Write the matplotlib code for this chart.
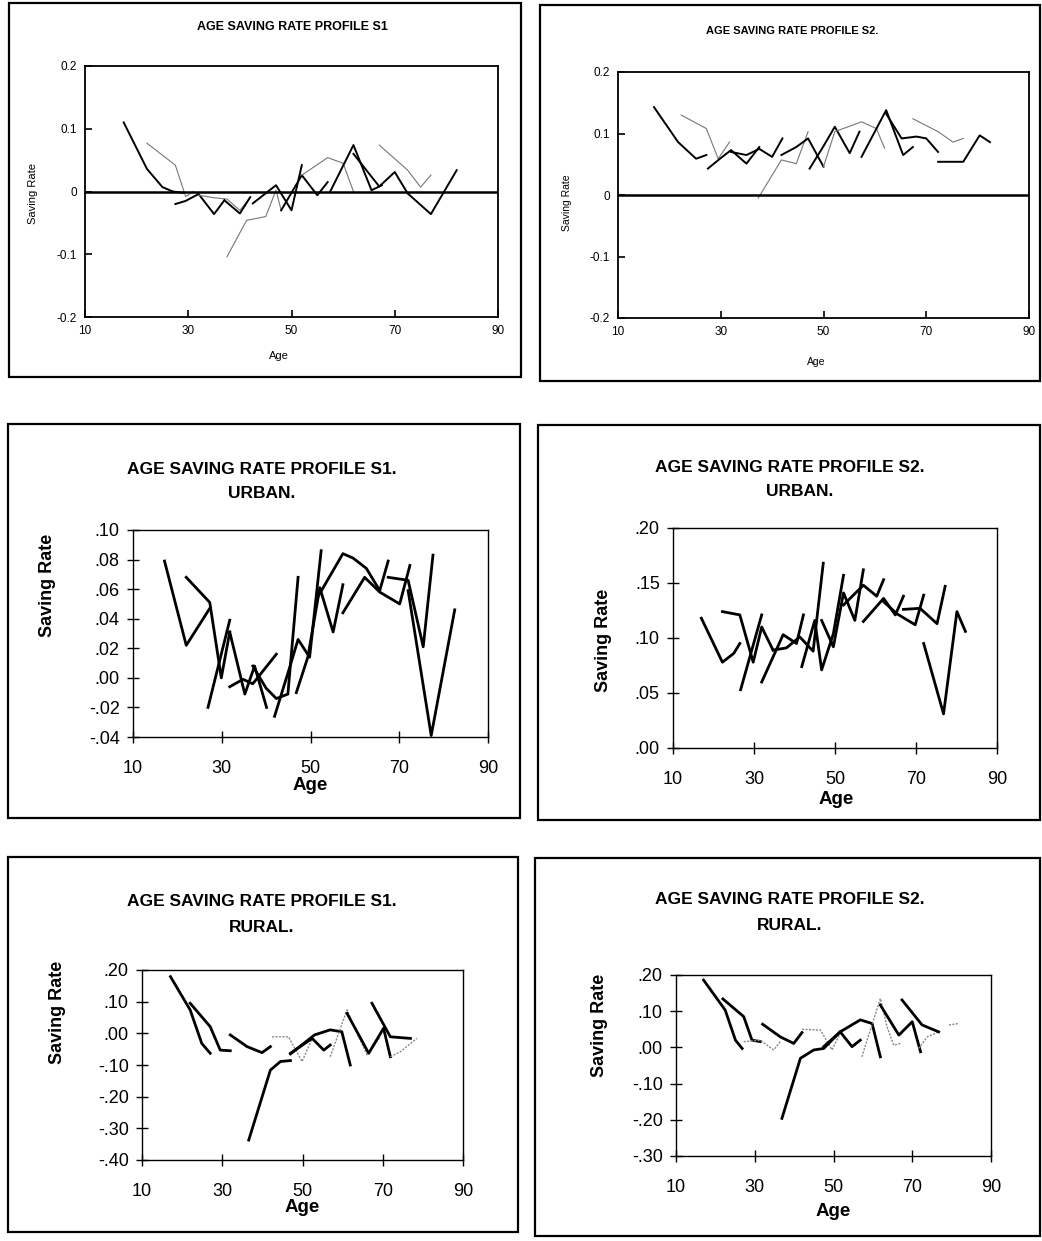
import matplotlib
matplotlib.use("Agg")
import matplotlib.pyplot as plt
from matplotlib.patches import Rectangle
from matplotlib.ticker import FixedLocator, FuncFormatter

plt.rcParams['font.family'] = ['Liberation Sans', 'DejaVu Sans']

# ---------------- DATA (cohort profiles: age, saving rate) ----------------
# Panel 1: S1 (all)
P1_AGES = [[17.5, 22, 25, 27, 29], [22, 27.5, 29.5, 31], [27.5, 29.5, 32, 35, 37],
           [32, 35, 37.5, 40, 42], [37, 40, 42], [37.5, 41.3, 45, 47, 48],
           [42.5, 47, 50, 52], [48, 52, 55, 57], [52, 57, 60, 62],
           [57.5, 62, 65.5, 67.5], [62, 67, 70, 72.5], [67, 72.5, 75, 77], [72.5, 77, 82]]
P1_VALS = [[0.11, 0.036, 0.007, 0.0, -0.002], [0.077, 0.042, -0.008, 0.0],
           [-0.02, -0.015, -0.004, -0.036, -0.014], [-0.006, -0.01, -0.012, -0.03, -0.01],
           [-0.014, -0.035, -0.009], [-0.104, -0.046, -0.04, 0.002, -0.03],
           [-0.019, 0.01, -0.03, 0.042], [-0.03, 0.026, -0.006, 0.015],
           [0.026, 0.054, 0.045, 0.0], [0.0, 0.074, 0.002, 0.01],
           [0.06, 0.008, 0.031, -0.003], [0.074, 0.034, 0.007, 0.026],
           [-0.003, -0.036, 0.034]]

# Panel 2: S2 (all)
P2_AGES = [[17, 21.7, 25.2, 27.2], [22.3, 27.2, 29.5, 31.7], [27.5, 30, 32, 35, 37.5],
           [32, 35, 37.5, 40, 42], [37.3, 41.8, 44.7, 47], [41.8, 44.7, 47, 50],
           [47.3, 49.9, 52.2, 55.1, 57], [50, 52.2, 57.4, 60.3, 61.9],
           [57.4, 62.2, 65.5, 67.4], [62.2, 65.2, 68.1, 70, 72.3],
           [67.4, 72.3, 75.2, 77.2], [72.3, 77.2, 80.4, 82.4]]
P2_VALS = [[0.143, 0.086, 0.059, 0.065], [0.13, 0.108, 0.059, 0.086],
           [0.043, 0.06, 0.073, 0.051, 0.078], [0.07, 0.065, 0.075, 0.062, 0.092],
           [-0.005, 0.057, 0.051, 0.103], [0.065, 0.078, 0.092, 0.046],
           [0.043, 0.078, 0.111, 0.068, 0.103], [0.046, 0.103, 0.119, 0.108, 0.076],
           [0.062, 0.138, 0.065, 0.078], [0.132, 0.092, 0.095, 0.092, 0.07],
           [0.124, 0.103, 0.086, 0.092], [0.054, 0.054, 0.097, 0.086]]

# Panel 3: S1 urban
P3_AGES = [[17.1, 22, 27.3], [22, 27.3, 29.9, 31.8], [26.9, 31.8],
           [31.8, 35.2, 37.4, 40.1], [31.8, 34.8, 37, 42.3],
           [37, 40, 42.3, 44.9, 47.2], [41.9, 45.3, 47.2, 49.8, 52.4],
           [46.8, 49.4, 52.1, 55.1, 57.3], [51.7, 57.3, 59.6, 62.6, 65.6, 67.5],
           [57.3, 62.2, 65.6, 70.1, 72.4], [67.5, 72, 75.4, 77.6], [72, 77.2, 82.5]]
P3_VALS = [[0.079, 0.022, 0.047], [0.068, 0.051, 0.0, 0.031], [-0.02, 0.039],
           [0.031, -0.011, 0.008, -0.02], [-0.006, -0.001, -0.004, 0.016],
           [0.008, -0.007, -0.014, -0.011, 0.068], [-0.026, 0.007, 0.026, 0.014, 0.086],
           [-0.01, 0.014, 0.061, 0.031, 0.063], [0.055, 0.084, 0.081, 0.074, 0.059, 0.079],
           [0.044, 0.068, 0.058, 0.05, 0.076], [0.068, 0.066, 0.021, 0.083],
           [0.059, -0.039, 0.046]]

# Panel 4: S2 urban
P4_AGES = [[17, 22.2, 25, 26.5], [22.2, 26.5, 29.8, 31.9, 34.7], [26.7, 31.9],
           [31.9, 37.2, 40.5, 42.2], [34.7, 38, 41.3, 44.6, 47.1],
           [41.8, 45, 46.7, 49.6, 52.1], [46.7, 49.6, 52.1, 54.9, 57],
           [52.1, 57, 60.3, 62], [57, 62, 64.9, 66.9], [62, 65.3, 69.8, 71.9],
           [66.9, 71, 75.2, 77.2], [71.9, 76.8, 80.1, 82.2]]
P4_VALS = [[0.118, 0.078, 0.086, 0.095], [0.124, 0.121, 0.078, 0.11, 0.089], [0.053, 0.121],
           [0.06, 0.103, 0.095, 0.121], [0.089, 0.091, 0.101, 0.088, 0.168],
           [0.074, 0.116, 0.071, 0.104, 0.157], [0.116, 0.092, 0.141, 0.116, 0.162],
           [0.13, 0.148, 0.138, 0.153], [0.115, 0.136, 0.121, 0.138],
           [0.133, 0.122, 0.112, 0.139], [0.126, 0.127, 0.113, 0.147],
           [0.095, 0.031, 0.124, 0.106]]

# Panel 5: S1 rural
P5_AGES = [[17.1, 22, 24.9, 27], [22, 27, 29.5, 32], [32, 36.2, 39.9, 42],
           [36.6, 42, 44.5, 47], [42.4, 46.5, 49.9, 52.4], [47, 52.4, 55.3, 56.9],
           [47, 53, 56.9, 59.8, 61.9], [56.9, 61.1, 63.6, 66.1, 69.4],
           [61.1, 66.5, 70.2, 71.9], [67.3, 71.9, 76.9], [71.9, 74.4, 78.5]]
P5_VALS = [[0.179, 0.074, -0.032, -0.063], [0.095, 0.021, -0.053, -0.055],
           [-0.005, -0.042, -0.061, -0.042], [-0.337, -0.116, -0.089, -0.086],
           [-0.011, -0.011, -0.089, -0.016], [-0.063, -0.016, -0.053, -0.037],
           [-0.065, -0.005, 0.011, 0.005, -0.1], [-0.074, 0.074, 0.0, -0.068, -0.011],
           [0.063, -0.063, 0.016, -0.074], [0.095, -0.011, -0.016],
           [-0.074, -0.058, -0.016]]

# Panel 6: S2 rural
P6_AGES = [[17, 22.5, 25.1, 26.8], [21.9, 27.2, 29.3, 31.4], [27.2, 31.4, 34.8, 36.5],
           [32, 36.5, 39.9, 42], [42, 46.7, 49.6, 51.7], [36.9, 41.6, 45, 47.5, 51.7],
           [47.5, 51.7, 54.7, 56.8], [51.7, 56.8, 59.8, 61.9],
           [57.2, 61.9, 63.6, 65.3, 67], [61.9, 66.6, 70, 72.1],
           [71.6, 73.8, 76.7], [67.4, 72.5, 76.7], [79.3, 81.8]]
P6_VALS = [[0.186, 0.103, 0.02, -0.003], [0.134, 0.085, 0.02, 0.016],
           [0.016, 0.02, -0.007, 0.016], [0.064, 0.029, 0.011, 0.041],
           [0.05, 0.048, -0.007, 0.039], [-0.196, -0.03, -0.007, -0.003, 0.043],
           [0.002, 0.043, 0.002, 0.02], [0.043, 0.076, 0.066, -0.026],
           [-0.026, 0.135, 0.057, 0.006, 0.011], [0.117, 0.034, 0.071, -0.012],
           [-0.003, 0.029, 0.043], [0.131, 0.062, 0.043], [0.062, 0.066]]

X_TICKS = [10, 30, 50, 70, 90]
Y_TICKS_TOP = [-0.2, -0.1, 0, 0.1, 0.2]
Y_TICKS_P3 = [-0.04, -0.02, 0.0, 0.02, 0.04, 0.06, 0.08, 0.10]
Y_TICKS_P4 = [0.0, 0.05, 0.10, 0.15, 0.20]
Y_TICKS_P5 = [-0.40, -0.30, -0.20, -0.10, 0.0, 0.10, 0.20]
Y_TICKS_P6 = [-0.30, -0.20, -0.10, 0.0, 0.10, 0.20]

# styles (indices of thin grey cohorts)
P1_THIN = {1, 3, 5, 8, 11}
P2_THIN = {1, 4, 7, 10}
P5_THIN = {4, 7, 10}
P6_THIN = {2, 4, 8, 10, 12}

# ---------------- FIGURE ----------------
W, H = 1042, 1241
fig = plt.figure(figsize=(W / 100, H / 100), dpi=100)


def ax_px(x0, x1, y0, y1):
    return fig.add_axes([x0 / W, 1 - y1 / H, (x1 - x0) / W, (y1 - y0) / H])


def frame(x0, x1, y0, y1):
    fig.patches.append(Rectangle((x0 / W, 1 - y1 / H), (x1 - x0) / W, (y1 - y0) / H,
                                 transform=fig.transFigure, fill=False,
                                 edgecolor='black', lw=1.6))


def ftext(x, y, s, **kw):
    fig.text(x / W, 1 - y / H, s, **kw)


def dotfmt(v, pos):
    s = f"{v:.2f}"
    return s.replace("0.", ".", 1)


def topfmt(v, pos):
    if abs(v) < 1e-9:
        return "0"
    return f"{v:.1f}"


# frames
frame(9, 521, 3, 377)
frame(540, 1040, 5, 381)
frame(8, 520, 424, 818)
frame(538, 1040, 425, 820)
frame(8, 518, 857, 1232)
frame(535, 1040, 858, 1236)


def draw_top(ax, ages, vals, thin):
    for i, (a, v) in enumerate(zip(ages, vals)):
        if i in thin:
            ax.plot(a, v, color='#777777', lw=0.8)
        else:
            ax.plot(a, v, color='black', lw=1.4)
    ax.axhline(0, color='black', lw=1.8)
    ax.set_xlim(10, 90)
    ax.set_ylim(-0.2, 0.2)
    ax.xaxis.set_major_locator(FixedLocator(X_TICKS))
    ax.yaxis.set_major_locator(FixedLocator(Y_TICKS_TOP))
    ax.yaxis.set_major_formatter(FuncFormatter(topfmt))
    ax.tick_params(direction='in', length=5, width=1.2, labelsize=8.5, pad=6)
    for s in ax.spines.values():
        s.set_linewidth(1.3)


def draw_big(ax, ages, vals, thin, ylim, yticks):
    for i, (a, v) in enumerate(zip(ages, vals)):
        if i in thin:
            ax.plot(a, v, color='#888888', lw=1.0, ls=(0, (1.5, 1)))
        else:
            ax.plot(a, v, color='black', lw=2.0)
    ax.set_xlim(10, 90)
    ax.set_ylim(*ylim)
    ax.xaxis.set_major_locator(FixedLocator(X_TICKS))
    ax.yaxis.set_major_locator(FixedLocator(yticks))
    ax.yaxis.set_major_formatter(FuncFormatter(dotfmt))
    ax.tick_params(direction='inout', length=9, width=1.0, labelsize=13)
    ax.tick_params(axis='x', pad=12)
    ax.tick_params(axis='y', pad=5)
    for s in ax.spines.values():
        s.set_linewidth(1.0)


# Top left
ax1 = ax_px(85, 498, 66, 317)
draw_top(ax1, P1_AGES, P1_VALS, P1_THIN)
ftext(292, 27, "AGE SAVING RATE PROFILE S1", ha='center', va='center',
      fontsize=9, fontweight='bold')
ftext(33, 193, "Saving Rate", rotation=90, ha='center', va='center', fontsize=8)
ftext(279, 356, "Age", ha='center', va='center', fontsize=8)

# Top right
ax2 = ax_px(618, 1029, 72, 318)
draw_top(ax2, P2_AGES, P2_VALS, P2_THIN)
ftext(792, 31, "AGE SAVING RATE PROFILE S2.", ha='center', va='center',
      fontsize=8, fontweight='bold')
ftext(567, 203, "Saving Rate", rotation=90, ha='center', va='center', fontsize=7.5)
ftext(816, 362, "Age", ha='center', va='center', fontsize=7.5)

# Middle left
ax3 = ax_px(133, 488, 530, 737)
draw_big(ax3, P3_AGES, P3_VALS, set(), (-0.04, 0.10), Y_TICKS_P3)
ftext(262, 470, "AGE SAVING RATE PROFILE S1.", ha='center', va='center',
      fontsize=12.5, fontweight='bold')
ftext(262, 494, "URBAN.", ha='center', va='center', fontsize=12.5, fontweight='bold')
ftext(48, 585, "Saving Rate", rotation=90, ha='center', va='center',
      fontsize=13, fontweight='bold')
ftext(310, 785, "Age", ha='center', va='center', fontsize=13.5, fontweight='bold')

# Middle right
ax4 = ax_px(673, 997, 528, 748)
draw_big(ax4, P4_AGES, P4_VALS, set(), (0.0, 0.20), Y_TICKS_P4)
ftext(790, 468, "AGE SAVING RATE PROFILE S2.", ha='center', va='center',
      fontsize=12.5, fontweight='bold')
ftext(800, 492, "URBAN.", ha='center', va='center', fontsize=12.5, fontweight='bold')
ftext(603, 640, "Saving Rate", rotation=90, ha='center', va='center',
      fontsize=13, fontweight='bold')
ftext(836, 799, "Age", ha='center', va='center', fontsize=13.5, fontweight='bold')

# Bottom left
ax5 = ax_px(142, 463, 970, 1160)
draw_big(ax5, P5_AGES, P5_VALS, P5_THIN, (-0.40, 0.20), Y_TICKS_P5)
ftext(262, 902, "AGE SAVING RATE PROFILE S1.", ha='center', va='center',
      fontsize=12.5, fontweight='bold')
ftext(262, 927, "RURAL.", ha='center', va='center', fontsize=12.5, fontweight='bold')
ftext(58, 1012, "Saving Rate", rotation=90, ha='center', va='center',
      fontsize=13, fontweight='bold')
ftext(302, 1207, "Age", ha='center', va='center', fontsize=13.5, fontweight='bold')

# Bottom right
ax6 = ax_px(676, 991, 975, 1156)
draw_big(ax6, P6_AGES, P6_VALS, P6_THIN, (-0.30, 0.20), Y_TICKS_P6)
ftext(790, 900, "AGE SAVING RATE PROFILE S2.", ha='center', va='center',
      fontsize=12.5, fontweight='bold')
ftext(790, 925, "RURAL.", ha='center', va='center', fontsize=12.5, fontweight='bold')
ftext(600, 1025, "Saving Rate", rotation=90, ha='center', va='center',
      fontsize=13, fontweight='bold')
ftext(833, 1211, "Age", ha='center', va='center', fontsize=13.5, fontweight='bold')

fig.savefig("out.png", dpi=100)
